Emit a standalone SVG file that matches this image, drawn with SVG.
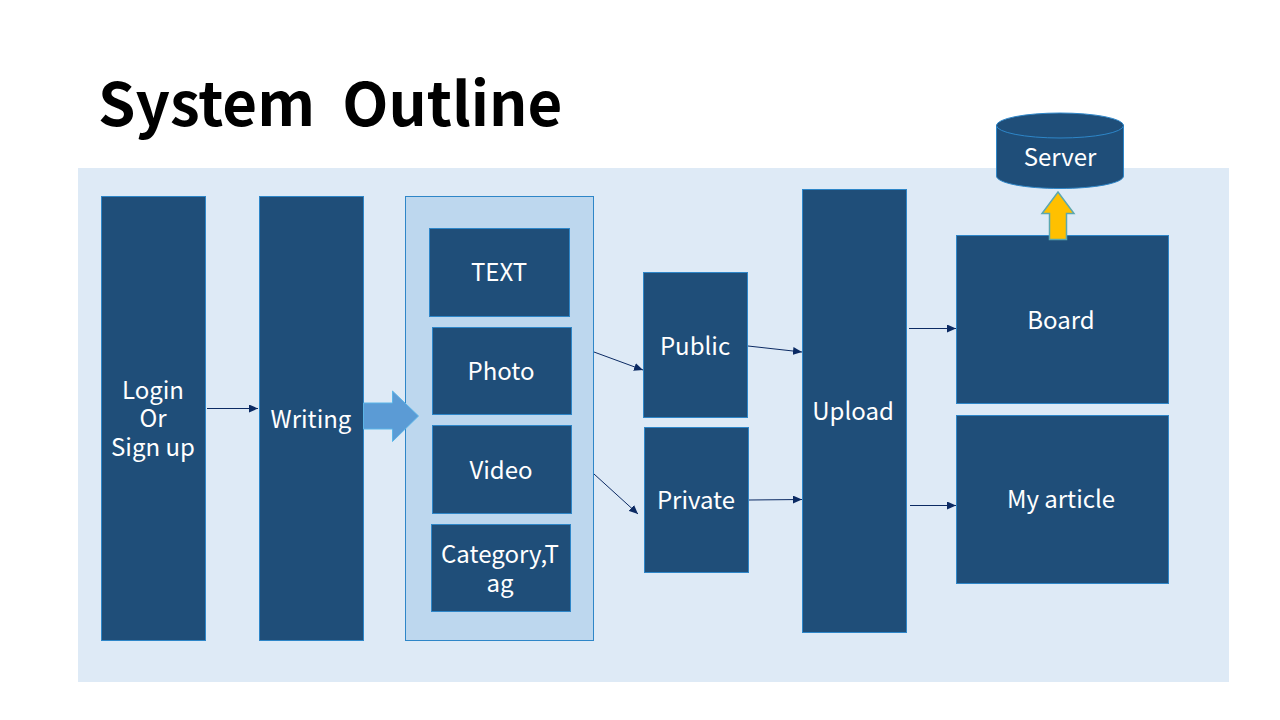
<svg xmlns="http://www.w3.org/2000/svg" width="1280" height="720" viewBox="0 0 1280 720">
<style>
.n{fill:#1f4e79;stroke:#2e86c8;stroke-width:1}
text{font-family:"Noto Sans CJK KR","Noto Sans","Open Sans",sans-serif}
.l{fill:#fff;font-size:24px;text-anchor:middle}
.c{fill:none;stroke:#0b2a63;stroke-width:1;marker-end:url(#a)}
</style>
<defs>
<marker id="a" markerUnits="userSpaceOnUse" markerWidth="9" markerHeight="8" refX="9" refY="4" orient="auto"><path d="M0 0L9 4L0 8Z" fill="#0b2a63"/></marker>
</defs>
<rect width="1280" height="720" fill="#fff"/>
<rect id="panel" x="78" y="168" width="1151" height="514" fill="#deeaf6"/>
<text id="title" x="98" y="126" font-size="60" font-weight="700" fill="#000" xml:space="preserve">System  Outline</text>
<g id="server">
<path d="M996.500 125V176C996.500 183 1025 188.500 1060 188.500S1123.500 183 1123.500 176V125Z" class="n"/>
<ellipse cx="1060" cy="125.500" rx="63.500" ry="12.500" class="n"/>
<text class="l" x="1060" y="166">Server</text>
</g>
<g id="login"><rect class="n" x="101.500" y="196.500" width="104" height="444"/>
<text class="l" x="153" y="399">Login</text><text class="l" x="153" y="427">Or</text><text class="l" x="153" y="456">Sign up</text></g>
<g id="writing"><rect class="n" x="259.500" y="196.500" width="104" height="444"/><text class="l" x="311" y="428">Writing</text></g>
<g id="group"><rect x="405.500" y="196.500" width="188" height="444" fill="#bdd7ee" stroke="#2e86c8"/></g>
<g id="text-node"><rect class="n" x="429.500" y="228.500" width="140" height="88"/><text class="l" x="499" y="281">TEXT</text></g>
<g id="photo"><rect class="n" x="432.500" y="327.500" width="139" height="87"/><text class="l" x="501" y="380">Photo</text></g>
<g id="video"><rect class="n" x="432.500" y="425.500" width="139" height="88"/><text class="l" x="501" y="479">Video</text></g>
<g id="category"><rect class="n" x="431.500" y="524.500" width="139" height="87"/><text class="l" x="500" y="563">Category,T</text><text class="l" x="500" y="592">ag</text></g>
<g id="public"><rect class="n" x="643.500" y="272.500" width="104" height="145"/><text class="l" x="695" y="355">Public</text></g>
<g id="private"><rect class="n" x="644.500" y="427.500" width="104" height="145"/><text class="l" x="696" y="509">Private</text></g>
<g id="upload"><rect class="n" x="802.500" y="189.500" width="104" height="443"/><text class="l" x="853" y="420">Upload</text></g>
<g id="board"><rect class="n" x="956.500" y="235.500" width="212" height="168"/><text class="l" x="1061" y="329">Board</text></g>
<g id="article"><rect class="n" x="956.500" y="415.500" width="212" height="168"/><text class="l" x="1061" y="508">My article</text></g>
<g id="connectors">
<line class="c" x1="207" y1="408.500" x2="258" y2="408.500"/>
<line class="c" x1="594" y1="352" x2="643" y2="370"/>
<line class="c" x1="594" y1="474" x2="638" y2="514"/>
<line class="c" x1="748" y1="346" x2="802" y2="352"/>
<line class="c" x1="749" y1="500" x2="802" y2="499.500"/>
<line class="c" x1="909" y1="328.500" x2="956" y2="328.500"/>
<line class="c" x1="910" y1="505.500" x2="956" y2="505.500"/>
<path id="big-arrow" d="M363.500 403H392.500V391L418.500 416L392.500 441.500V429H363.500Z" fill="#5b9bd5" stroke="#5bb5e8"/>
<path id="up-arrow" d="M1049.500 239.500V213.500H1042L1058 192L1074 213.500H1066.500V239.500Z" fill="#ffc000" stroke="#5ba8b0" stroke-width="1.500"/>
</g>
</svg>
